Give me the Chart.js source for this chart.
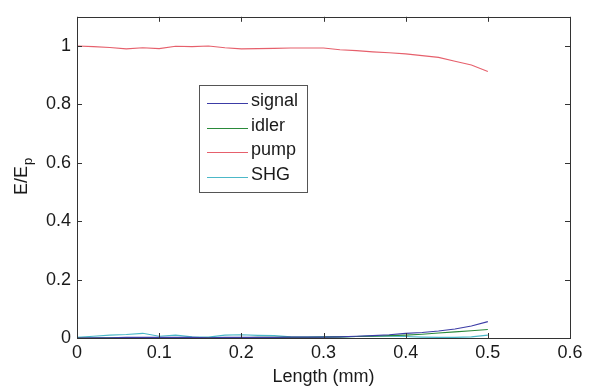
<!DOCTYPE html>
<html>
<head>
<meta charset="utf-8">
<title>E/Ep vs Length</title>
<script src="https://cdn.jsdelivr.net/npm/chart.js@4.4.1/dist/chart.umd.min.js"></script>
<style>
  html, body { margin: 0; padding: 0; background: #fff; }
  #wrap { position: relative; width: 611px; height: 392px; }
</style>
</head>
<body>
<div id="wrap"><canvas id="chart" width="611" height="392"></canvas></div>
<script>
// ---- data ----
const lengthMm = [0, 0.02, 0.04, 0.06, 0.08, 0.10, 0.12, 0.14, 0.16, 0.18, 0.20, 0.22, 0.24,
                  0.26, 0.28, 0.30, 0.32, 0.34, 0.36, 0.38, 0.40, 0.42, 0.44, 0.46, 0.48, 0.50];

const signal = [0.000, 0.001, 0.001, 0.002, 0.002, 0.002, 0.002, 0.002, 0.001, 0.002, 0.002, 0.002, 0.002,
                0.003, 0.003, 0.003, 0.004, 0.006, 0.008, 0.011, 0.016, 0.019, 0.024, 0.031, 0.041, 0.056];
const idler  = [0.000, 0.000, 0.001, 0.001, 0.001, 0.001, 0.001, 0.001, 0.001, 0.001, 0.001, 0.002, 0.002,
                0.002, 0.002, 0.003, 0.004, 0.005, 0.006, 0.008, 0.010, 0.013, 0.017, 0.021, 0.025, 0.029];
const pump   = [1.000, 0.998, 0.995, 0.990, 0.994, 0.991, 0.999, 0.998, 1.000, 0.994, 0.990, 0.991, 0.992,
                0.993, 0.993, 0.993, 0.987, 0.984, 0.980, 0.977, 0.973, 0.967, 0.961, 0.948, 0.935, 0.913];
const shg    = [0.002, 0.006, 0.010, 0.012, 0.016, 0.006, 0.010, 0.004, 0.003, 0.010, 0.011, 0.009, 0.008,
                0.004, 0.003, 0.004, 0.004, 0.005, 0.007, 0.006, 0.005, 0.003, 0.002, 0.002, 0.004, 0.010];

const seriesNames  = ['signal', 'idler', 'pump', 'SHG'];
const seriesColors = ['#3c3ca6', '#2a8a3a', '#e6606c', '#4cb8c8'];
const xTicks = [0, 0.1, 0.2, 0.3, 0.4, 0.5, 0.6];
const yTicks = [0, 0.2, 0.4, 0.6, 0.8, 1];

const FONT = "'Liberation Sans', Arial, sans-serif";
const INK = '#1a1a1a';

function toPoints(ys) {
  return lengthMm.map(function (x, i) { return { x: x, y: ys[i] }; });
}

// box, inward ticks, y label with subscript, legend
const matlabAxes = {
  id: 'matlabAxes',
  afterDatasetsDraw: function (chart) {
    const ctx = chart.ctx;
    const a = chart.chartArea;
    const xs = chart.scales.x, ys = chart.scales.y;
    ctx.save();
    ctx.strokeStyle = '#333';
    ctx.lineWidth = 1;
    ctx.strokeRect(Math.round(a.left) + 0.5, Math.round(a.top) + 0.5,
                   Math.round(a.right - a.left), Math.round(a.bottom - a.top));
    ctx.beginPath();
    xTicks.forEach(function (v) {
      const px = Math.round(xs.getPixelForValue(v)) + 0.5;
      ctx.moveTo(px, a.bottom); ctx.lineTo(px, a.bottom - 5);
      ctx.moveTo(px, a.top); ctx.lineTo(px, a.top + 5);
    });
    yTicks.forEach(function (v) {
      const py = Math.round(ys.getPixelForValue(v)) + 0.5;
      ctx.moveTo(a.left, py); ctx.lineTo(a.left + 5, py);
      ctx.moveTo(a.right, py); ctx.lineTo(a.right - 5, py);
    });
    ctx.stroke();

    // y axis title E/E_p
    ctx.fillStyle = INK;
    ctx.translate(27, 195);
    ctx.rotate(-Math.PI / 2);
    ctx.font = '18px ' + FONT;
    ctx.textAlign = 'left';
    ctx.textBaseline = 'alphabetic';
    ctx.fillText('E/E', 0, 0);
    const w = ctx.measureText('E/E').width;
    ctx.font = '13px ' + FONT;
    ctx.fillText('p', w + 1, 5);
    ctx.restore();

    // legend
    ctx.save();
    const lx = 199, ly = 85, lw = 108, lh = 107;
    ctx.fillStyle = '#fff';
    ctx.fillRect(lx, ly, lw, lh);
    ctx.strokeStyle = '#555';
    ctx.lineWidth = 1;
    ctx.strokeRect(lx + 0.5, ly + 0.5, lw, lh);
    ctx.font = '18px ' + FONT;
    ctx.textBaseline = 'middle';
    ctx.textAlign = 'left';
    seriesNames.forEach(function (name, i) {
      const y = ly + 18 + i * 24.7;
      ctx.strokeStyle = seriesColors[i];
      ctx.beginPath();
      ctx.moveTo(lx + 8, Math.round(y) + 0.5);
      ctx.lineTo(lx + 49, Math.round(y) + 0.5);
      ctx.stroke();
      ctx.fillStyle = INK;
      ctx.fillText(name, lx + 52, y - 2);
    });
    ctx.restore();
  }
};

const datasets = [signal, idler, pump, shg].map(function (vals, i) {
  return {
    label: seriesNames[i],
    data: toPoints(vals),
    borderColor: seriesColors[i],
    backgroundColor: seriesColors[i],
    borderWidth: 1.1,
    pointRadius: 0,
    showLine: true,
    tension: 0,
    fill: false
  };
});

new Chart(document.getElementById('chart'), {
  type: 'scatter',
  data: { datasets: datasets },
  plugins: [matlabAxes],
  options: {
    responsive: false,
    animation: false,
    layout: { padding: { left: 0, right: 41, top: 8, bottom: 0 } },
    plugins: {
      legend: { display: false },
      tooltip: { enabled: false }
    },
    scales: {
      x: {
        type: 'linear',
        min: 0,
        max: 0.6,
        afterBuildTicks: function (s) { s.ticks = xTicks.map(function (v) { return { value: v }; }); },
        afterFit: function (s) { s.height = 54; },
        grid: { display: false, drawTicks: false },
        border: { display: false },
        ticks: {
          padding: 4,
          color: INK,
          font: { size: 18, family: FONT },
          maxRotation: 0,
          callback: function (v) { return String(Math.round(v * 10) / 10); }
        },
        title: {
          display: true,
          text: 'Length (mm)',
          color: INK,
          font: { size: 18, family: FONT },
          padding: { top: 0, bottom: 4 }
        }
      },
      y: {
        type: 'linear',
        min: 0,
        max: 1.1,
        afterBuildTicks: function (s) { s.ticks = yTicks.map(function (v) { return { value: v }; }); },
        afterFit: function (s) { s.width = 77; },
        grid: { display: false, drawTicks: false },
        border: { display: false },
        ticks: {
          padding: 6,
          color: INK,
          font: { size: 18, family: FONT },
          callback: function (v) { return String(Math.round(v * 10) / 10); }
        }
      }
    }
  }
});
</script>
</body>
</html>
